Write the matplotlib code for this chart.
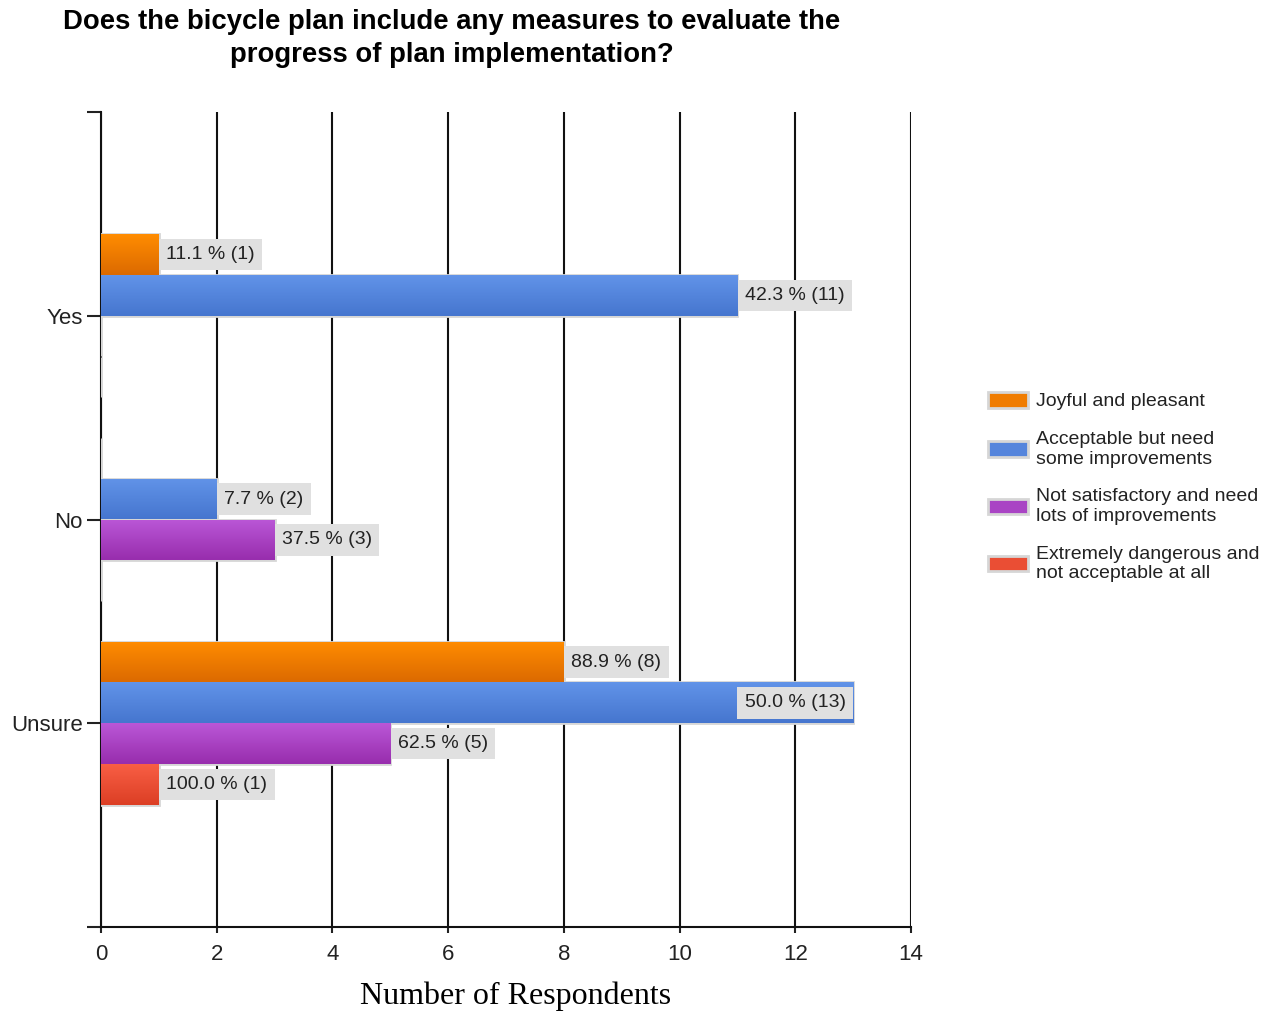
import numpy as np
import matplotlib
matplotlib.use("Agg")
import matplotlib.pyplot as plt
from matplotlib.patches import Patch
from matplotlib.colors import to_rgb

categories = ["Yes", "No", "Unsure"]
series_names = [
    "Joyful and pleasant",
    "Acceptable but need\nsome improvements",
    "Not satisfactory and need\nlots of improvements",
    "Extremely dangerous and\nnot acceptable at all",
]
joyful = [1, 0, 8]
acceptable = [11, 2, 13]
not_satisfactory = [0, 3, 5]
extremely = [0, 0, 1]
series_values = [joyful, acceptable, not_satisfactory, extremely]
x_ticks = [0, 2, 4, 6, 8, 10, 12, 14]

top_colors = ["#FF8C00", "#6193E8", "#BA56D6", "#F85E44"]
bot_colors = ["#DC6A00", "#4676CF", "#982EAE", "#DC3F25"]
mid_colors = ["#F07C00", "#5585DC", "#A944C4", "#EA4E34"]

plt.rcParams["font.family"] = ["Liberation Sans", "DejaVu Sans"]

fig = plt.figure(figsize=(12.68, 10.13), dpi=100)
ax = fig.add_axes([101/1268, 1-927/1013, (911-101)/1268, (927-112)/1013])

cat_pos = np.arange(1, len(categories)+1)
offsets = [-0.3, -0.1, 0.1, 0.3]
bar_h = 0.2

for si, vals in enumerate(series_values):
    total = sum(vals)
    bars = ax.barh(cat_pos + offsets[si], vals, height=bar_h,
                   color=mid_colors[si], edgecolor="#d6d6d6", linewidth=2, zorder=3)
    for b, v in zip(bars, vals):
        x0, y0 = b.get_x(), b.get_y()
        w, h = b.get_width(), b.get_height()
        if w > 0:
            c1 = np.array(to_rgb(top_colors[si])); c2 = np.array(to_rgb(bot_colors[si]))
            t = np.linspace(0, 1, 32)[:, None]
            grad = (c1 * (1 - t) + c2 * t)[:, None, :]
            im = ax.imshow(grad, extent=(x0, x0 + w, y0 + h, y0), aspect="auto",
                           origin="upper", zorder=3.5, interpolation="bilinear")
            im.set_clip_path(b)
        if v > 0:
            label = f"{100*v/total:.1f} % ({v})"
            yc = y0 + h/2
            if v >= 12:
                ax.text(v - 0.13, yc, label, ha="right", va="center", fontsize=14,
                        color="#222222", zorder=5,
                        bbox=dict(facecolor="#e0e0e0", edgecolor="none", pad=5.2))
            else:
                ax.text(v + 0.13, yc, label, ha="left", va="center", fontsize=14,
                        color="#222222", zorder=5,
                        bbox=dict(facecolor="#e0e0e0", edgecolor="none", pad=5.2))

ax.set_xlim(0, 14)
ax.set_ylim(4, 0)
ax.set_xticks(x_ticks)
ax.set_xticklabels([str(v) for v in x_ticks], fontsize=16, color="#222222")
ax.set_yticks([0, 1, 2, 3, 4])
ax.set_yticklabels([""] + categories + [""], fontsize=16, color="#222222")
ax.tick_params(axis="y", length=10, width=1.5, color="#222222", pad=3)
ax.tick_params(axis="x", length=4, width=1.5, color="#222222", pad=8)
ax.xaxis.grid(True, color="#111111", linewidth=1.5)
ax.set_axisbelow(True)
for s in ["top", "right"]:
    ax.spines[s].set_visible(False)
for s in ["left", "bottom"]:
    ax.spines[s].set_color("#111111")
    ax.spines[s].set_linewidth(1.5)

ax.set_xlabel("Number of Respondents", fontsize=23, family=["Liberation Serif"])
ax.xaxis.set_label_coords(0.512, -0.067)

fig.text(452/1268, 1-22/1013, "Does the bicycle plan include any measures to evaluate the",
         ha="center", va="center", fontsize=19.8, fontweight="bold")
fig.text(452/1268, 1-55/1013, "progress of plan implementation?",
         ha="center", va="center", fontsize=19.8, fontweight="bold")

handles = [Patch(facecolor=mid_colors[i], edgecolor="#d6d6d6", linewidth=2) for i in range(4)]
leg = fig.legend(handles, series_names, loc="upper left",
                 bbox_to_anchor=(988/1268, 1-392/1013), frameon=False,
                 fontsize=14, handlelength=2.05, handleheight=0.85,
                 handletextpad=0.4, labelspacing=1.06, borderpad=0, borderaxespad=0)
for t in leg.get_texts():
    t.set_linespacing(1.2)
    t.set_color("#222222")

fig.savefig("out.png", dpi=100)
